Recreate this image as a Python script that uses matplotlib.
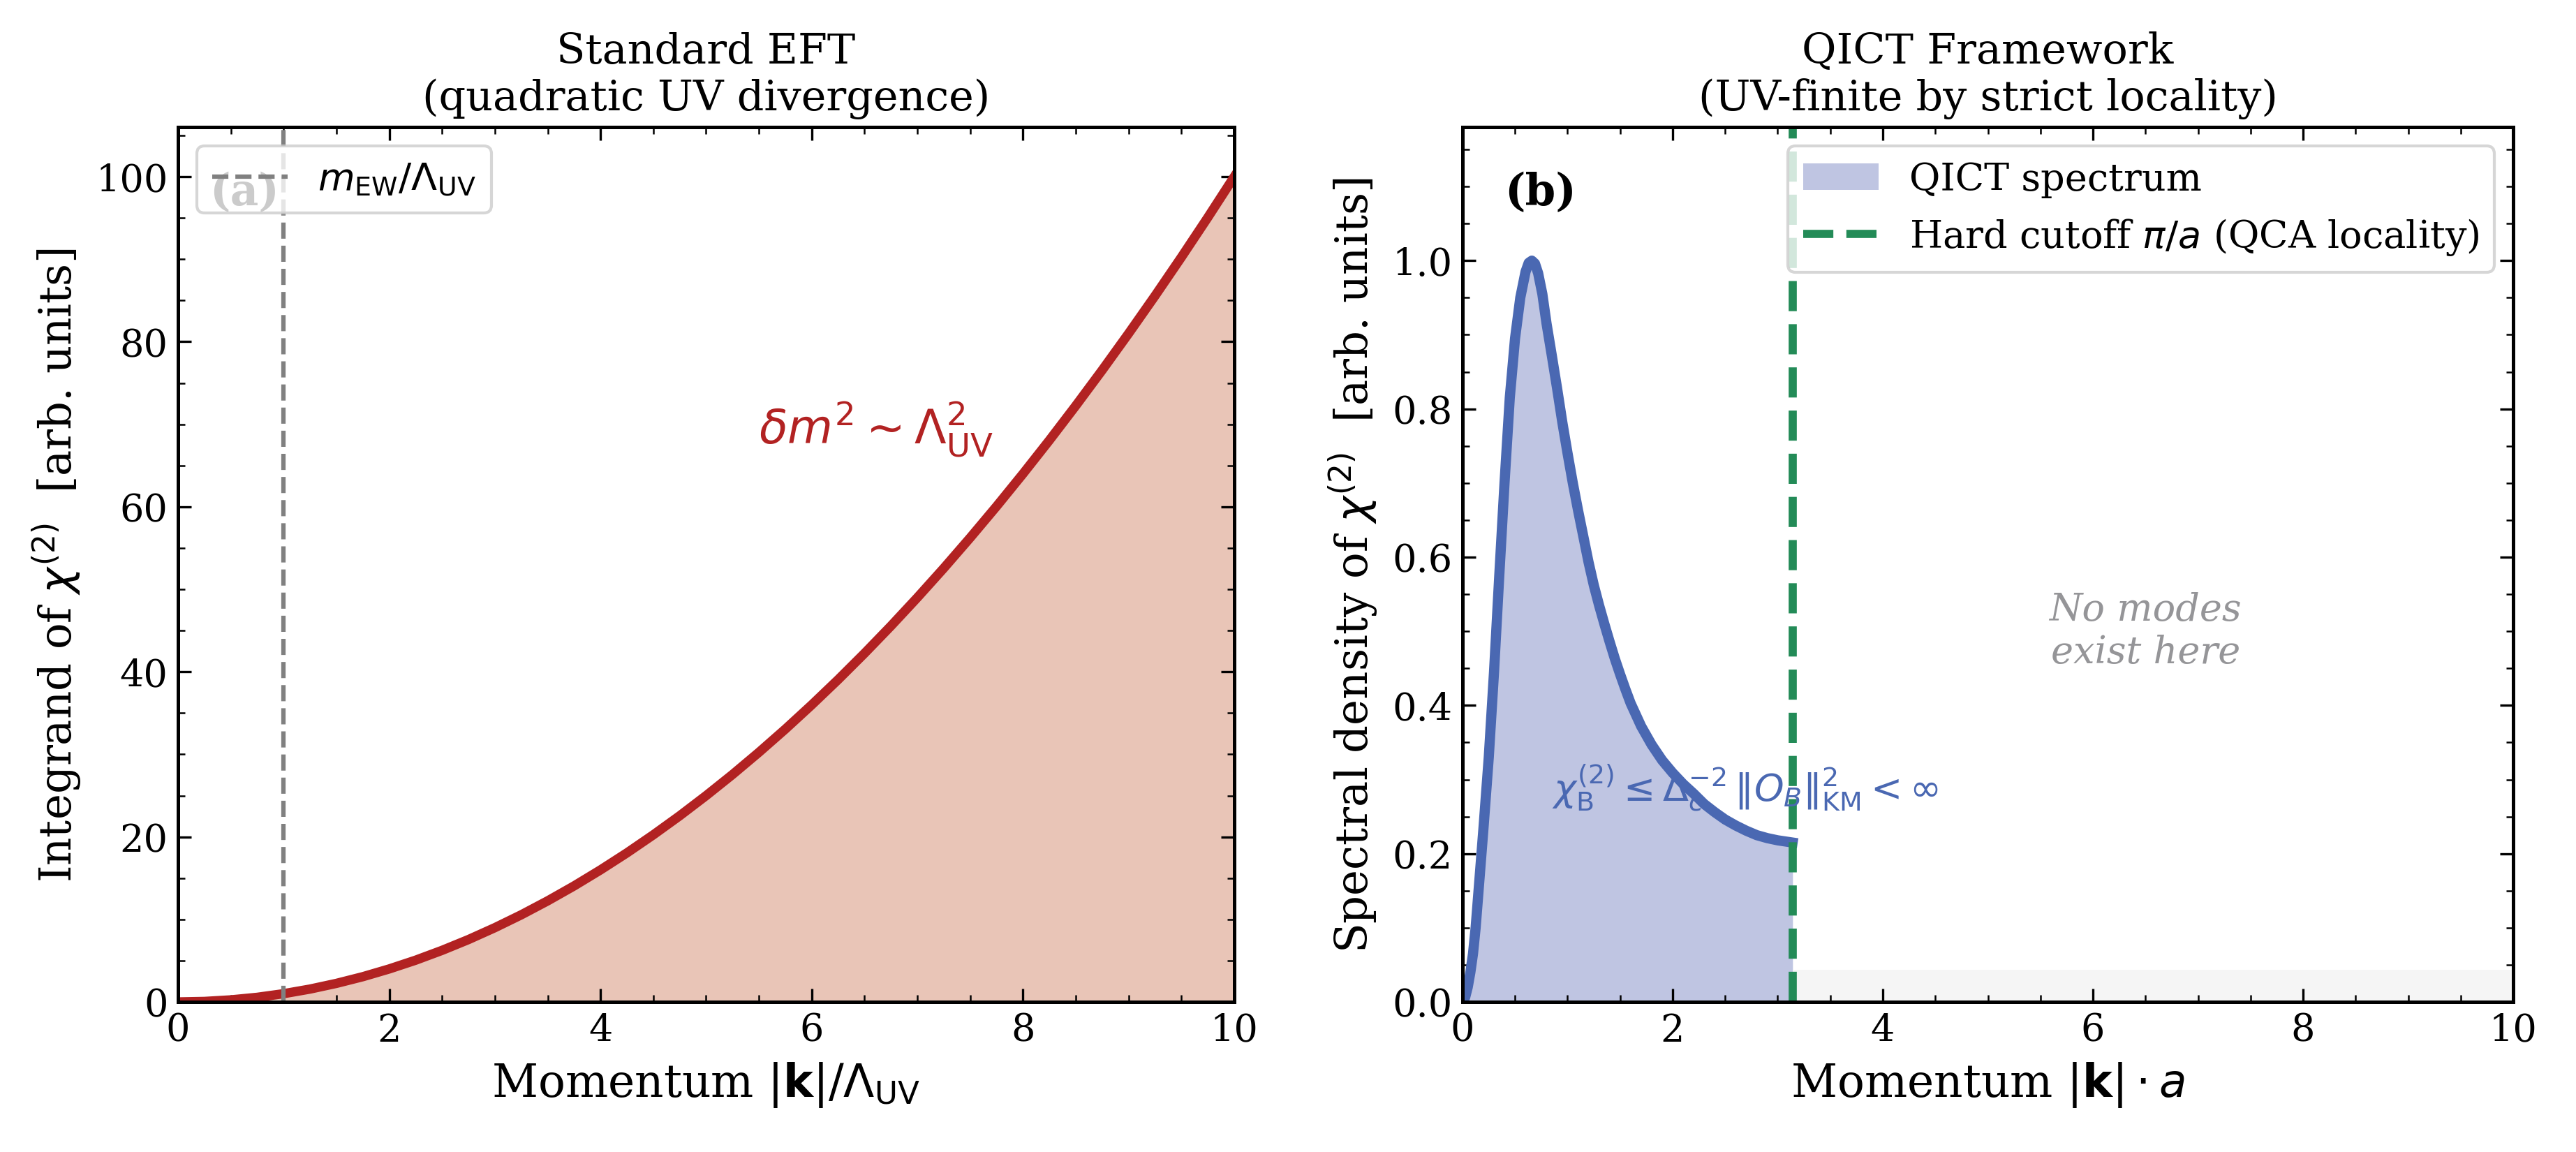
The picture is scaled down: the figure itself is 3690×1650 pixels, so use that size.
import numpy as np
import matplotlib
matplotlib.use("Agg")
import matplotlib.pyplot as plt
from matplotlib.patches import Patch
from matplotlib.lines import Line2D

plt.rcParams['font.family'] = ['DejaVu Serif']
plt.rcParams['mathtext.fontset'] = 'dejavusans'
plt.rcParams['xtick.direction'] = 'in'
plt.rcParams['ytick.direction'] = 'in'
plt.rcParams['xtick.top'] = True
plt.rcParams['ytick.right'] = True
plt.rcParams['xtick.minor.visible'] = True
plt.rcParams['ytick.minor.visible'] = True
plt.rcParams['xtick.major.size'] = 4.5
plt.rcParams['ytick.major.size'] = 4.5
plt.rcParams['xtick.minor.size'] = 2.5
plt.rcParams['ytick.minor.size'] = 2.5
plt.rcParams['axes.linewidth'] = 1.2

# ---- Panel (a): standard EFT integrand ----
k_eft = [0.0, 0.25, 0.5, 0.75, 1.0, 1.25, 1.5, 1.75, 2.0, 2.25, 2.5, 2.75, 3.0,
         3.25, 3.5, 3.75, 4.0, 4.25, 4.5, 4.75, 5.0, 5.25, 5.5, 5.75, 6.0,
         6.25, 6.5, 6.75, 7.0, 7.25, 7.5, 7.75, 8.0, 8.25, 8.5, 8.75, 9.0,
         9.25, 9.5, 9.75, 10.0]
integrand_eft = [0.0, 0.06, 0.25, 0.56, 1.0, 1.56, 2.25, 3.06, 4.0, 5.06, 6.25,
                 7.56, 9.0, 10.56, 12.25, 14.06, 16.0, 18.06, 20.25, 22.56, 25.0,
                 27.56, 30.25, 33.06, 36.0, 39.06, 42.25, 45.56, 49.0, 52.56,
                 56.25, 60.06, 64.0, 68.06, 72.25, 76.56, 81.0, 85.56, 90.25,
                 95.06, 100.0]
m_ew = 1.0

# ---- Panel (b): QICT spectral density ----
k_qict = [0.0, 0.025, 0.05, 0.075, 0.10, 0.125, 0.15, 0.175, 0.20, 0.25,
          0.30, 0.35, 0.40, 0.45, 0.50, 0.55, 0.60, 0.63, 0.66, 0.69, 0.72,
          0.76, 0.80, 0.85, 0.90, 0.95, 1.00, 1.05, 1.10, 1.15, 1.20, 1.25,
          1.30, 1.35, 1.40, 1.45, 1.50, 1.55, 1.60, 1.70, 1.80, 1.90, 2.00,
          2.10, 2.20, 2.30, 2.40, 2.50, 2.60, 2.70, 2.80, 2.90, 3.00, 3.14159]
density_qict = [0.0, 0.006, 0.02, 0.04, 0.065, 0.10, 0.145, 0.19, 0.235, 0.33,
                0.445, 0.575, 0.70, 0.815, 0.895, 0.95, 0.985, 0.997, 1.0,
                0.996, 0.983, 0.955, 0.915, 0.872, 0.828, 0.782, 0.740, 0.700,
                0.663, 0.628, 0.593, 0.562, 0.535, 0.510, 0.486, 0.463, 0.442,
                0.422, 0.403, 0.372, 0.347, 0.326, 0.309, 0.294, 0.281, 0.267,
                0.256, 0.246, 0.238, 0.231, 0.225, 0.221, 0.218, 0.215]
k_cut = np.pi
k_outside = [np.pi, 10.0]
outside_band = [0.043, 0.043]

red = '#b22222'
red_fill = '#e9c5b7'
blue = '#4a68b2'
blue_fill = '#bfc5e2'
green = '#238b57'

fig = plt.figure(figsize=(12.303, 5.503), dpi=300)
ax1 = fig.add_axes([0.0691, 0.1302, 0.4099, 0.7589])
ax2 = fig.add_axes([0.5676, 0.1302, 0.4078, 0.7589])

# Panel (a)
ax1.fill_between(k_eft, 0, integrand_eft, color=red_fill, lw=0)
ax1.plot(k_eft, integrand_eft, color=red, lw=3.2)
ax1.axvline(m_ew, color='gray', ls='--', lw=1.5,
            label=r'$m_{\mathrm{EW}}/\Lambda_{\mathrm{UV}}$')
ax1.text(5.5, 69.5, r'$\delta m^2 \sim \Lambda_{\mathrm{UV}}^2$', color=red,
         fontsize=16, va='center', ha='left')
ax1.text(0.03, 0.95, '(a)', transform=ax1.transAxes, fontsize=15,
         fontweight='bold', va='top', ha='left')
ax1.set_xlim(0, 10)
ax1.set_ylim(0, 106)
ax1.set_xlabel(r'Momentum $|\mathbf{k}|/\Lambda_{\mathrm{UV}}$', fontsize=15.5)
ax1.set_ylabel(r'Integrand of $\chi^{(2)}$  [arb. units]', fontsize=15)
ax1.set_title('Standard EFT\n(quadratic UV divergence)', fontsize=14.5)
ax1.tick_params(labelsize=13)
ax1.legend(loc='upper left', fontsize=13, framealpha=0.8)

# Panel (b)
ax2.fill_between(k_qict, 0, density_qict, color=blue_fill, lw=0)
ax2.plot(k_qict, density_qict, color=blue, lw=3.5, solid_joinstyle='round')
ax2.fill_between(k_outside, 0, outside_band, color='#f5f5f5', lw=0)
ax2.axvline(k_cut, color=green, ls='--', lw=2.8)
ax2.text(0.85, 0.29,
         r'$\chi^{(2)}_{\mathrm{B}} \leq \Delta_c^{-2}\,\|O_B\|^2_{\mathrm{KM}} < \infty$',
         color=blue, fontsize=13, va='center', ha='left')
ax2.text(6.5, 0.5, 'No modes\nexist here', color='#959598', fontsize=13,
         style='italic', ha='center', va='center')
ax2.text(0.04, 0.95, '(b)', transform=ax2.transAxes, fontsize=15,
         fontweight='bold', va='top', ha='left')
ax2.set_xlim(0, 10)
ax2.set_ylim(0, 1.18)
ax2.set_xlabel(r'Momentum $|\mathbf{k}|\cdot a$', fontsize=15.5)
ax2.set_ylabel(r'Spectral density of $\chi^{(2)}$  [arb. units]', fontsize=15)
ax2.set_title('QICT Framework\n(UV-finite by strict locality)', fontsize=14.5)
ax2.tick_params(labelsize=13)
handles = [Patch(facecolor=blue_fill, edgecolor='none', label='QICT spectrum'),
           Line2D([0], [0], color=green, ls='--', lw=2.8,
                  label=r'Hard cutoff $\pi/a$ (QCA locality)')]
ax2.legend(handles=handles, loc='upper right', fontsize=13, framealpha=0.8)

fig.savefig('out.png', dpi=300)
